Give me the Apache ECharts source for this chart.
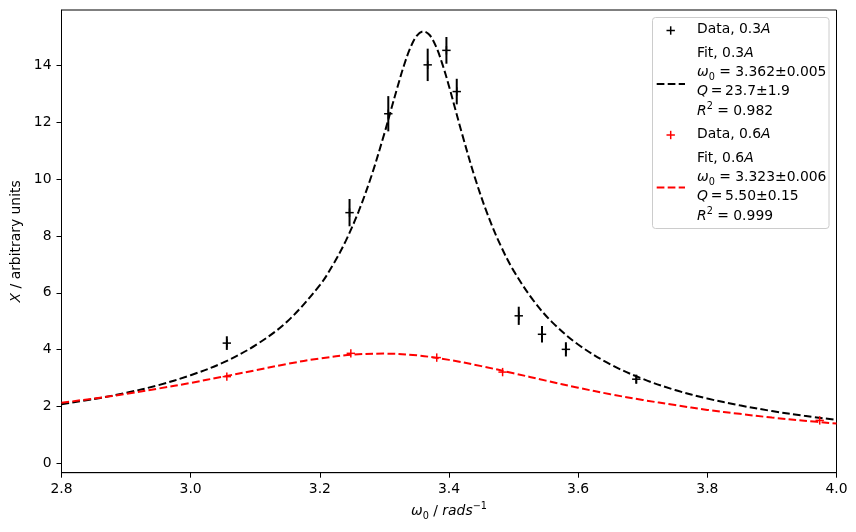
<!DOCTYPE html>
<html>
<head>
<meta charset="utf-8">
<script src="https://cdn.jsdelivr.net/npm/echarts@6/dist/echarts.min.js"></script>
<style>
  html, body { margin: 0; padding: 0; background: #fff; }
  #chart { width: 856px; height: 532px; }
</style>
</head>
<body>
<div id="chart"></div>
<script>
// ---- data ----
const data03Omega = [3.056, 3.246, 3.306, 3.367, 3.396, 3.412, 3.508, 3.544, 3.581, 3.690];
const data03X     = [4.23, 8.82, 12.30, 14.02, 14.53, 13.08, 5.19, 4.54, 4.01, 2.96];
const data03Err   = [0.24, 0.48, 0.62, 0.57, 0.47, 0.45, 0.32, 0.29, 0.25, 0.16];

const data06Omega = [3.056, 3.248, 3.381, 3.483, 3.974];
const data06X     = [3.05, 3.87, 3.72, 3.21, 1.51];

const fit03Omega = [2.80, 2.85, 2.90, 2.95, 3.00, 3.05, 3.10, 3.15, 3.20, 3.22, 3.24, 3.26, 3.28, 3.30,
                    3.31, 3.32, 3.33, 3.34, 3.35, 3.36, 3.37, 3.38, 3.39, 3.40, 3.41, 3.42, 3.44, 3.46,
                    3.48, 3.50, 3.53, 3.56, 3.60, 3.65, 3.70, 3.75, 3.80, 3.85, 3.90, 3.95, 4.00];
const fit03X     = [2.08, 2.26, 2.48, 2.75, 3.10, 3.54, 4.15, 5.00, 6.27, 6.97, 7.82, 8.86, 10.12, 11.61,
                    12.42, 13.22, 13.98, 14.61, 15.04, 15.20, 15.07, 14.66, 14.03, 13.27, 12.44, 11.61, 10.06, 8.74,
                    7.66, 6.78, 5.75, 4.96, 4.18, 3.48, 2.97, 2.58, 2.28, 2.04, 1.84, 1.67, 1.53];

const fit06Omega = [2.80, 2.85, 2.90, 2.95, 3.00, 3.05, 3.10, 3.15, 3.20, 3.25, 3.30, 3.35, 3.40,
                    3.45, 3.50, 3.55, 3.60, 3.65, 3.70, 3.75, 3.80, 3.85, 3.90, 3.95, 4.00];
const fit06X     = [2.13, 2.28, 2.44, 2.63, 2.83, 3.05, 3.27, 3.50, 3.69, 3.82, 3.86, 3.80, 3.64,
                    3.42, 3.17, 2.91, 2.66, 2.43, 2.23, 2.05, 1.88, 1.74, 1.61, 1.50, 1.40];

const xTicks = [2.8, 3.0, 3.2, 3.4, 3.6, 3.8, 4.0];
const yTicks = [0, 2, 4, 6, 8, 10, 12, 14];

const legendLines = [
  '{n|Data, 0.3}{i|A}',
  '{n|Fit, 0.3}{i|A}',
  '{i|ω}{sub|0}{n| = 3.362±0.005}',
  '{i|Q}{n|\u2009=\u200923.7±1.9}',
  '{i|R}{sup|2}{n| = 0.982}',
  '{n|Data, 0.6}{i|A}',
  '{n|Fit, 0.6}{i|A}',
  '{i|ω}{sub|0}{n| = 3.323±0.006}',
  '{i|Q}{n|\u2009=\u20095.50±0.15}',
  '{i|R}{sup|2}{n| = 0.999}'
];

// ---- chart ----
const FONT = 'DejaVu Sans';
const FS = 13.9;
const rich = {
  n:   { fontFamily: FONT, fontSize: FS, color: '#000', lineHeight: 20 },
  i:   { fontFamily: FONT, fontSize: FS, color: '#000', fontStyle: 'italic', lineHeight: 20 },
  sub: { fontFamily: FONT, fontSize: 9.7, color: '#000', verticalAlign: 'bottom', lineHeight: 14 },
  sup: { fontFamily: FONT, fontSize: 9.7, color: '#000', verticalAlign: 'top', lineHeight: 12 }
};

function pairs(xs, ys, es) {
  return xs.map((x, k) => es ? [x, ys[k], es[k]] : [x, ys[k]]);
}

function plusItem(color, withErr) {
  return function (params, api) {
    const x = api.value(0), y = api.value(1);
    const c = api.coord([x, y]);
    const ch = [];
    if (withErr) {
      const e = api.value(2);
      const t = api.coord([x, y + e]);
      const b = api.coord([x, y - e]);
      ch.push({ type: 'line', shape: { x1: t[0], y1: t[1], x2: b[0], y2: b[1] },
                style: { stroke: color, lineWidth: 2 } });
    }
    ch.push({ type: 'line', shape: { x1: c[0] - 4.2, y1: c[1], x2: c[0] + 4.2, y2: c[1] },
              style: { stroke: color, lineWidth: 1.5 } });
    ch.push({ type: 'line', shape: { x1: c[0], y1: c[1] - 4.2, x2: c[0], y2: c[1] + 4.2 },
              style: { stroke: color, lineWidth: 1.5 } });
    return { type: 'group', children: ch };
  };
}

// legend drawn as graphic (matplotlib style box)
const legendY = [29.5, 53.5, 72.5, 91.5, 111, 134, 158.5, 177.5, 196.5, 216];
const graphics = [
  { type: 'rect', shape: { x: 652.5, y: 17.5, width: 176.5, height: 211, r: 3 },
    style: { fill: 'rgba(255,255,255,0.8)', stroke: '#cccccc', lineWidth: 1 }, z: 100 }
];
legendLines.forEach((t, k) => {
  graphics.push({ type: 'text', x: 697, y: legendY[k], z: 101,
    style: { text: t, rich: rich, align: 'left', verticalAlign: 'middle' } });
});
function legendPlus(cx, cy, color) {
  return [
    { type: 'line', z: 101, shape: { x1: cx - 4.2, y1: cy, x2: cx + 4.2, y2: cy }, style: { stroke: color, lineWidth: 1.5 } },
    { type: 'line', z: 101, shape: { x1: cx, y1: cy - 4.2, x2: cx, y2: cy + 4.2 }, style: { stroke: color, lineWidth: 1.5 } }
  ];
}
graphics.push(...legendPlus(670.7, 30.5, '#000'));
graphics.push(...legendPlus(670.7, 135, '#ff0000'));
graphics.push({ type: 'line', z: 101, shape: { x1: 656.7, y1: 84, x2: 685, y2: 84 },
  style: { stroke: '#000', lineWidth: 2, lineDash: [7.7, 3.3] } });
graphics.push({ type: 'line', z: 101, shape: { x1: 656.7, y1: 187.5, x2: 685, y2: 187.5 },
  style: { stroke: '#ff0000', lineWidth: 2, lineDash: [7.7, 3.3] } });

const chart = echarts.init(document.getElementById('chart'), null, { renderer: 'canvas' });
chart.setOption({
  animation: false,
  backgroundColor: '#fff',
  grid: { left: 61.5, right: 19.5, top: 10, bottom: 59.3, show: true,
          borderColor: '#000', borderWidth: 1, backgroundColor: 'transparent', containLabel: false },
  xAxis: {
    type: 'value', min: 2.8, max: 4.0,
    axisLine: { show: true, onZero: false, lineStyle: { color: '#000', width: 1 } },
    axisTick: { show: true, length: 5, customValues: xTicks, lineStyle: { color: '#000', width: 1 } },
    axisLabel: { show: true, customValues: xTicks, margin: 10, color: '#000', fontFamily: FONT, fontSize: FS,
                 formatter: v => Number(v).toFixed(1) },
    splitLine: { show: false },
    name: '{i|ω}{sub|0}{n| / }{i|rads}{sup|−1}',
    nameLocation: 'middle', nameGap: 29,
    nameTextStyle: { rich: rich }
  },
  yAxis: {
    type: 'value', min: -0.33, max: 15.95,
    axisLine: { show: true, onZero: false, lineStyle: { color: '#000', width: 1 } },
    axisTick: { show: true, length: 5, customValues: yTicks, lineStyle: { color: '#000', width: 1 } },
    axisLabel: { show: true, customValues: yTicks, margin: 10, color: '#000', fontFamily: FONT, fontSize: FS,
                 formatter: v => String(Math.round(v)) },
    splitLine: { show: false },
    name: '{i|X}{n| / arbitrary units}',
    nameLocation: 'middle', nameGap: 32,
    nameTextStyle: { rich: rich }
  },
  graphic: graphics,
  series: [
    { name: 'Data, 0.3A', type: 'custom', renderItem: plusItem('#000', true),
      data: pairs(data03Omega, data03X, data03Err), encode: { x: 0, y: 1 }, z: 3 },
    { name: 'Fit, 0.3A', type: 'line', data: pairs(fit03Omega, fit03X), showSymbol: false,
      smooth: 0.35,
      lineStyle: { color: '#000', width: 2, type: [7.7, 3.3] }, z: 4 },
    { name: 'Data, 0.6A', type: 'custom', renderItem: plusItem('#ff0000', false),
      data: pairs(data06Omega, data06X), encode: { x: 0, y: 1 }, z: 5 },
    { name: 'Fit, 0.6A', type: 'line', data: pairs(fit06Omega, fit06X), showSymbol: false,
      smooth: 0.35,
      lineStyle: { color: '#ff0000', width: 2, type: [7.7, 3.3] }, z: 6 }
  ]
});
</script>
</body>
</html>
